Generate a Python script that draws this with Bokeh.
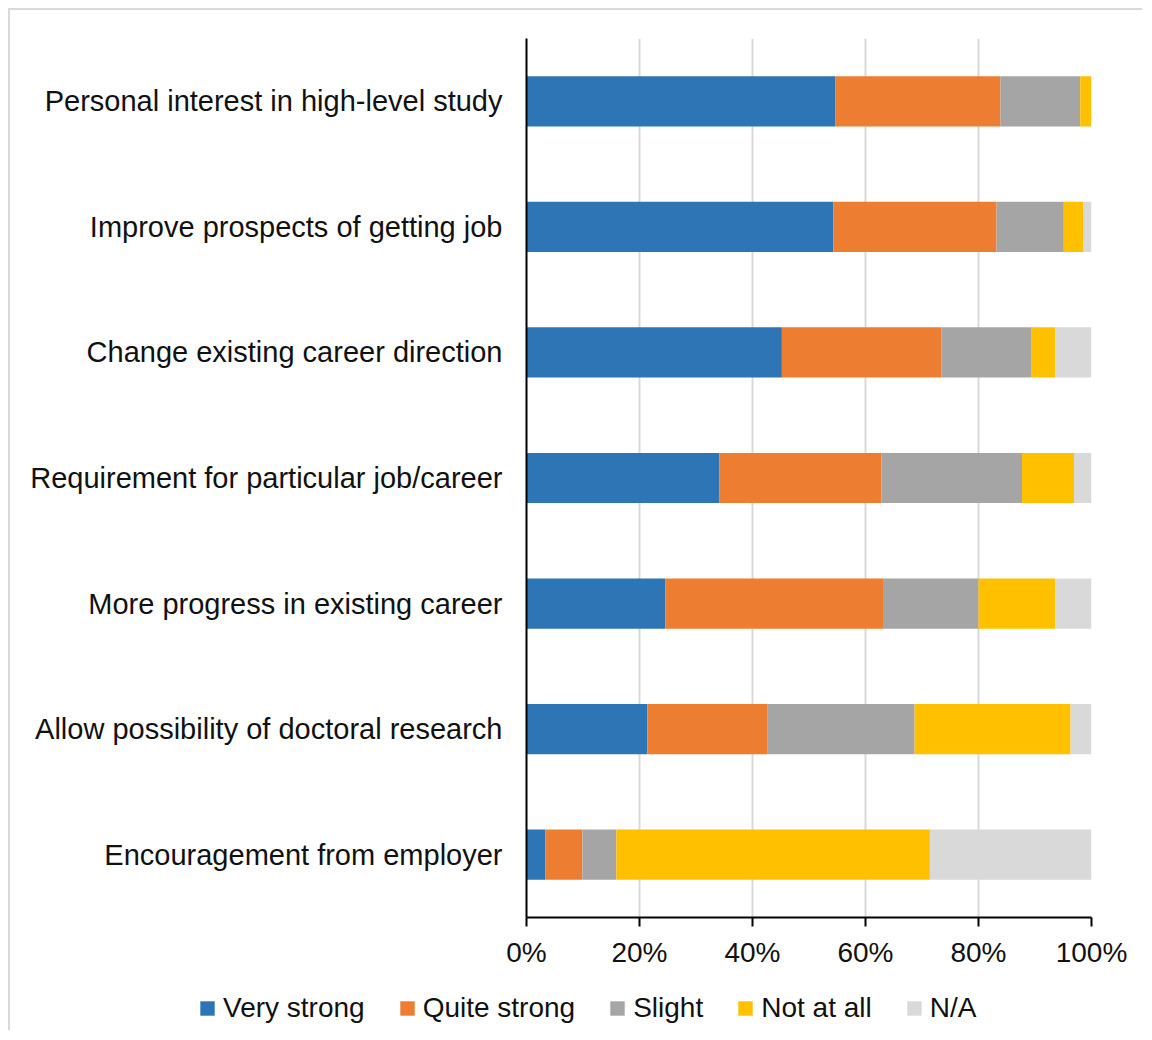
from bokeh.plotting import figure
from bokeh.models import FactorRange, Range1d, FixedTicker, PrintfTickFormatter, Legend, LegendItem, ColumnDataSource
from bokeh.embed import file_html
from bokeh.resources import INLINE

categories = [
    "Personal interest in high-level study",
    "Improve prospects of getting job",
    "Change existing career direction",
    "Requirement for particular job/career",
    "More progress in existing career",
    "Allow possibility of doctoral research",
    "Encouragement from employer",
]
series_names = ["Very strong", "Quite strong", "Slight", "Not at all", "N/A"]
very_strong = [54.7, 54.3, 45.2, 34.1, 24.6, 21.4, 3.3]
quite_strong = [29.2, 28.9, 28.2, 28.7, 38.5, 21.3, 6.6]
slight = [14.1, 11.9, 15.9, 24.9, 16.9, 26.0, 6.0]
not_at_all = [2.0, 3.4, 4.3, 9.2, 13.6, 27.6, 55.5]
na = [0.0, 1.5, 6.4, 3.1, 6.4, 3.7, 28.6]
x_ticks = [0, 20, 40, 60, 80, 100]
colors = ["#2E75B6", "#ED7D31", "#A5A5A5", "#FFC000", "#D9D9D9"]

FONT = "Liberation Sans"
keys = ["vs", "qs", "sl", "na_", "nan"]
source = ColumnDataSource(dict(cat=categories, vs=very_strong, qs=quite_strong,
                               sl=slight, na_=not_at_all, nan=na))

p = figure(width=1134, height=967, output_backend="svg", toolbar_location=None,
           y_range=FactorRange(factors=list(reversed(categories))),
           x_range=Range1d(0, 100),
           min_border_left=516, min_border_right=53, min_border_top=28, min_border_bottom=60)
p.styles = {"border-left": "2px solid #d9d9d9", "border-top": "2px solid #d9d9d9",
            "margin-left": "8px", "margin-top": "8px"}
p.outline_line_color = None
p.background_fill_color = "white"
p.border_fill_color = "white"

renderers = p.hbar_stack(keys, y="cat", height=0.4, color=colors, source=source, line_width=0)

p.xaxis.ticker = FixedTicker(ticks=x_ticks)
p.xaxis.formatter = PrintfTickFormatter(format="%d%%")
p.xaxis.axis_line_color = "black"
p.xaxis.axis_line_width = 2
p.xaxis.major_tick_line_color = "black"
p.xaxis.major_tick_line_width = 2
p.xaxis.major_tick_out = 9
p.xaxis.major_tick_in = 0
p.xaxis.minor_tick_line_color = None
p.xaxis.major_label_text_font = FONT
p.xaxis.major_label_text_font_size = "28px"
p.xaxis.major_label_text_color = "#111111"
p.xaxis.major_label_standoff = 10

p.yaxis.axis_line_color = "black"
p.yaxis.axis_line_width = 2
p.yaxis.major_tick_line_color = None
p.yaxis.minor_tick_line_color = None
p.yaxis.major_tick_out = 0
p.yaxis.major_tick_in = 0
p.yaxis.major_label_text_font = FONT
p.yaxis.major_label_text_font_size = "29px"
p.yaxis.major_label_text_color = "#111111"
p.yaxis.major_label_standoff = 24

p.xgrid.grid_line_color = "#D9D9D9"
p.xgrid.grid_line_width = 2
p.ygrid.grid_line_color = None

# legend strip (same series, hidden glyphs, only the legend is shown)
lf = figure(width=1134, height=55, output_backend="svg", toolbar_location=None,
            y_range=FactorRange(factors=list(reversed(categories))),
            x_range=Range1d(0, 100), x_axis_type=None, y_axis_type=None,
            min_border_left=0, min_border_right=0, min_border_top=0, min_border_bottom=0)
lf.styles = {"border-left": "2px solid #d9d9d9", "margin-left": "8px"}
lf.outline_line_color = None
lf.xgrid.grid_line_color = None
lf.ygrid.grid_line_color = None
lrs = lf.hbar_stack(keys, y="cat", height=0.4, color=colors, source=source, line_width=0)
for r in lrs:
    r.visible = False

items = [LegendItem(label=n, renderers=[r]) for n, r in zip(series_names, lrs)]
legend = Legend(items=items, orientation="horizontal", location=(188, 6))
legend.glyph_width = 18
legend.glyph_height = 18
legend.label_standoff = 7
legend.spacing = 33
legend.padding = 0
legend.margin = 0
legend.border_line_color = None
legend.background_fill_alpha = 0
legend.label_text_font = FONT
legend.label_text_font_size = "28px"
legend.label_text_color = "#111111"
lf.add_layout(legend)

open("out.html", "w").write(file_html([p, lf], INLINE))
